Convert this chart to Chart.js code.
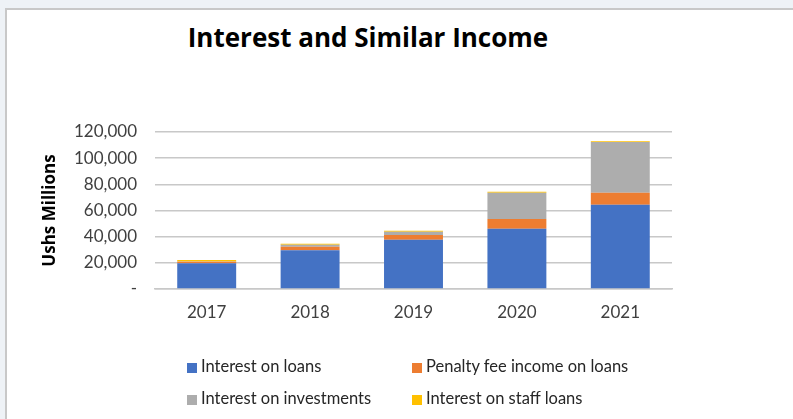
<!DOCTYPE html>
<html>
<head>
<meta charset="utf-8">
<script src="https://cdn.jsdelivr.net/npm/chart.js@4.4.1/dist/chart.umd.min.js"></script>
<style>
    html, body { margin: 0; padding: 0; }
    body { width: 793px; height: 419px; background: #eef2f6; position: relative; overflow: hidden; }
    #panel { position: absolute; left: 5px; top: 8px; width: 800px; height: 420px; background: #fff;
             border-left: 2px solid #c8c8c8; border-top: 2px solid #c8c8c8; }
    #wrap { position: absolute; left: 0; top: 0; width: 793px; height: 419px; }
    #title { position: absolute; left: 168px; width: 400px; top: 20px; text-align: center;
             font-family: 'Open Sans', sans-serif; font-weight: bold; font-size: 26px; line-height: 34px; color: #000; }
    #legend { position: absolute; left: 0; top: 0; font-family: Lato, sans-serif; font-size: 16.5px; color: #262626; }
    .item { position: absolute; white-space: nowrap; line-height: 18px; }
    .item span.box { display: inline-block; width: 10px; height: 10px; margin-right: 4px; vertical-align: -1px; }
</style>
</head>
<body>
<div id="panel"></div>
<div id="title">Interest and Similar Income</div>
<div id="wrap"><canvas id="incomeChart" width="793" height="419"></canvas></div>
<div id="legend"></div>
<script>
// Interest and similar income by year, Ushs millions
const years = ['2017', '2018', '2019', '2020', '2021'];
const interestOnLoans = [19600, 29600, 37700, 46100, 64400];
const penaltyFees = [1200, 2750, 3600, 7400, 9200];
const interestOnInvestments = [300, 1500, 2500, 20100, 38700];
const interestOnStaffLoans = [1000, 800, 800, 700, 700];
const seriesNames = ['Interest on loans', 'Penalty fee income on loans', 'Interest on investments', 'Interest on staff loans'];
const seriesColors = ['#4472c4', '#ed7d31', '#adadad', '#ffc000'];

const seriesData = [interestOnLoans, penaltyFees, interestOnInvestments, interestOnStaffLoans];

const datasets = seriesNames.map((name, i) => ({
    label: name,
    data: seriesData[i],
    backgroundColor: seriesColors[i],
    borderWidth: 0,
    categoryPercentage: 1,
    barPercentage: 0.57
}));

const tickColor = '#404040';

const ctx = document.getElementById('incomeChart').getContext('2d');
const incomeChart = new Chart(ctx, {
    type: 'bar',
    data: { labels: years, datasets: datasets },
    options: {
        responsive: false,
        animation: false,
        layout: { padding: { left: 38, right: 121, top: 132, bottom: 0 } },
        plugins: {
            legend: { display: false },
            tooltip: { enabled: false }
        },
        scales: {
            x: {
                stacked: true,
                grid: { display: false, drawTicks: false },
                border: { display: true, color: '#c8c8c8', width: 1.5 },
                ticks: { color: tickColor, padding: 13, font: { family: 'Lato', size: 17 } },
                afterFit: function (scale) { scale.height = 130; }
            },
            y: {
                stacked: true,
                min: 0,
                max: 120000,
                grid: { color: '#c8c8c8', lineWidth: 1.5, drawTicks: false },
                border: { display: false },
                ticks: {
                    stepSize: 20000,
                    color: tickColor,
                    padding: 18,
                    font: { family: 'Lato', size: 17 },
                    callback: v => v === 0 ? '-' : v.toLocaleString('en-US')
                },
                title: {
                    display: true,
                    text: 'Ushs Millions',
                    color: '#000',
                    font: { family: 'Open Sans', size: 17, weight: 'bold' },
                    padding: { top: 2, bottom: 0 }
                },
                afterFit: function (scale) { scale.width = 117; }
            }
        }
    }
});

// Two-column legend under the plot
const legendSpots = [[187, 357], [412, 357], [187, 389], [412, 389]];
const legend = document.getElementById('legend');
seriesNames.forEach((name, i) => {
    const item = document.createElement('div');
    item.className = 'item';
    item.style.left = legendSpots[i][0] + 'px';
    item.style.top = legendSpots[i][1] + 'px';
    item.innerHTML = '<span class="box" style="background:' + seriesColors[i] + '"></span>' + name;
    legend.appendChild(item);
});
</script>
</body>
</html>
